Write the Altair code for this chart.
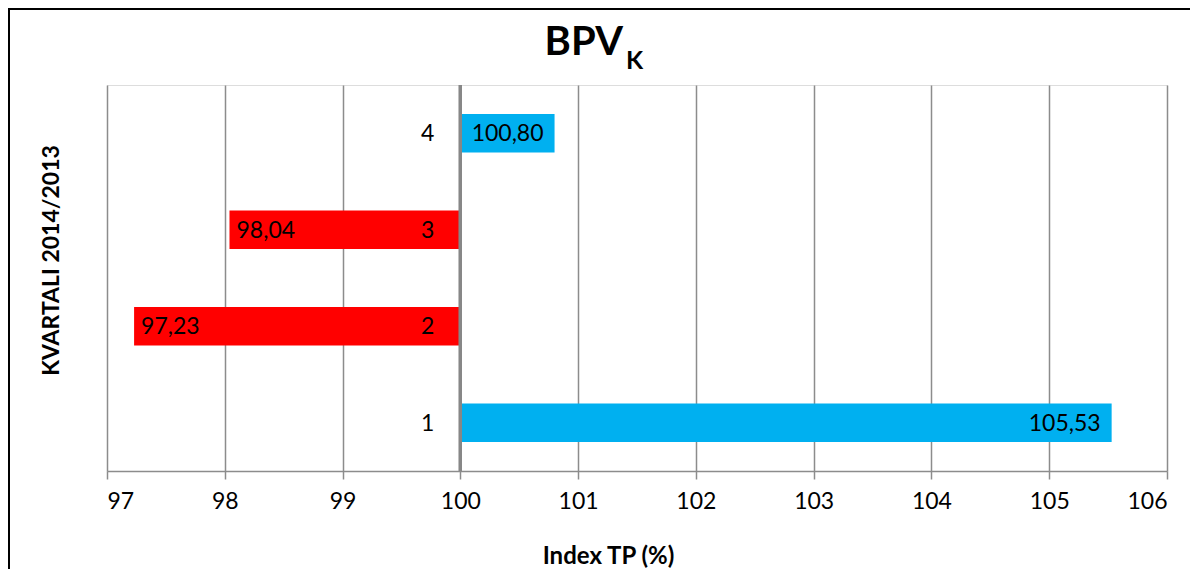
import altair as alt
import pandas as pd

quarters = ["1", "2", "3", "4"]
values = [105.53, 97.23, 98.04, 100.80]
x_ticks = [97, 98, 99, 100, 101, 102, 103, 104, 105, 106]

df = pd.DataFrame({
    "q": quarters,
    "v": values,
    "lbl": [f"{v:.2f}".replace(".", ",") for v in values],
    "base": [100] * len(values),
})

FONT = "Lato"
W, H = 1060, 386
order = ["4", "3", "2", "1"]

yenc = alt.Y("q:N", sort=order,
             scale=alt.Scale(paddingInner=0.6, paddingOuter=0.3),
             axis=alt.Axis(title="KVARTALI 2014/2013", labels=False, ticks=False,
                           domain=False, grid=False, titleAngle=-90,
                           titleBaseline="alphabetic", titleX=-49, titleY=175,
                           titleFont=FONT, titleFontSize=23, titleFontWeight="bold",
                           titleColor="black"))

xscale = alt.Scale(domain=[97, 106], nice=False, zero=False)
xaxis = alt.Axis(title="Index TP (%)", values=x_ticks, format="d",
                 grid=True, gridColor="#8c8c8c", gridWidth=1.5,
                 domainColor="#8c8c8c", domainWidth=1.5,
                 tickColor="#8c8c8c", tickWidth=1.5, tickSize=8,
                 labelFont=FONT, labelFontSize=23, labelColor="black", labelPadding=11,
                 titleFont=FONT, titleFontSize=24, titleFontWeight="bold", titleColor="black",
                 titleX=501, titleY=92, titleBaseline="alphabetic")

base = alt.Chart(df)

bars = base.mark_bar().encode(
    x=alt.X("v:Q", scale=xscale, axis=xaxis),
    x2="base:Q",
    y=yenc,
    color=alt.condition("datum.v > 100", alt.value("#00B0F0"), alt.value("#FF0000")),
)

axis100 = base.mark_rule(color="#878787", strokeWidth=3).encode(
    x=alt.datum(100), y=alt.value(0), y2=alt.value(H)
)

cat_labels = base.mark_text(align="right", baseline="middle", dx=-26, dy=1,
                            font=FONT, fontSize=23, color="black").encode(
    x="base:Q", y=alt.Y("q:N", sort=order), text="q:N"
)

val_hi = base.transform_filter("datum.v > 100").mark_text(
    align="right", baseline="middle", dx=-11, dy=1, font=FONT, fontSize=23, color="black"
).encode(x="v:Q", y=alt.Y("q:N", sort=order), text="lbl:N")

val_lo = base.transform_filter("datum.v < 100").mark_text(
    align="left", baseline="middle", dx=7, dy=1, font=FONT, fontSize=23, color="black"
).encode(x="v:Q", y=alt.Y("q:N", sort=order), text="lbl:N")

title_main = base.transform_filter("datum.q == '1'").mark_text(
    align="right", baseline="alphabetic", font=FONT, fontSize=40, fontWeight="bold", color="black"
).encode(x=alt.value(516), y=alt.value(-30), text=alt.value("BPV"))

title_sub = base.transform_filter("datum.q == '1'").mark_text(
    align="left", baseline="alphabetic", font=FONT, fontSize=25, fontWeight="bold", color="black"
).encode(x=alt.value(519), y=alt.value(-16), text=alt.value("K"))

border_top = base.transform_filter("datum.q == '1'").mark_rule(color="black", strokeWidth=2).encode(
    x=alt.value(-99), x2=alt.value(W + 23), y=alt.value(-76)
)
border_left = base.transform_filter("datum.q == '1'").mark_rect(color="black").encode(
    x=alt.value(-99), x2=alt.value(-97), y=alt.value(-77), y2=alt.value(H + 98)
)

chart = alt.layer(
    bars, axis100, cat_labels, val_hi, val_lo, title_main, title_sub, border_top, border_left
).properties(
    width=W, height=H,
    autosize=alt.AutoSizeParams(type="none"),
    padding={"left": 99, "top": 77, "right": 23, "bottom": 98},
).configure_view(stroke=None).configure(font=FONT, background="white")

chart.save("out.html", embed_options={"renderer": "svg", "actions": False})
